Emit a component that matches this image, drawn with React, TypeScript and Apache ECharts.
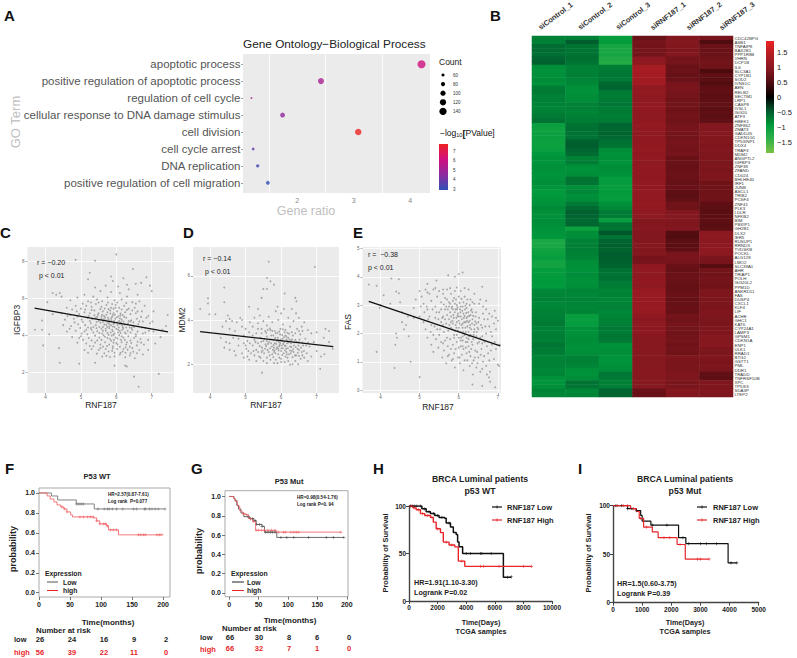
import React, { useEffect, useRef } from "react";
import * as echarts from "echarts";

const FONT = "'Liberation Sans', Arial, sans-serif";

// ---------- A: GO terms ----------
const goTerms = ["apoptotic process", "positive regulation of apoptotic process", "regulation of cell cycle", "cellular response to DNA damage stimulus", "cell division", "cell cycle arrest", "DNA replication", "positive regulation of cell migration"];
const goRatio = [4.2, 2.42, 1.19, 1.74, 3.08, 1.22, 1.3, 1.48];
const goCount = [155, 115, 40, 95, 125, 55, 65, 75];
const goLogP = [6, 5.1, 4.9, 4.6, 7.5, 3.9, 3.3, 3];
const goTicks = [2, 3, 4];
const goGrid = [1.5, 2.5, 3.5];
const goColors = ["#2f50b5", "#8e2aa0", "#d00f7f", "#ee2222"];
const countLegend = [60, 80, 100, 120, 140];
const pLegend = [7, 6, 5, 4, 3];

// ---------- B: heatmap ----------
const samples = ["siControl_1", "siControl_2", "siControl_3", "siRNF187_1", "siRNF187_2", "siRNF187_3"];
const genes = ["CDC42BPG", "ASB1", "TNFAIP8", "BAX2B1", "PPP1R8B", "VHRN", "DCP1B", "IL6", "SLC3A1", "CYP1B1", "SOD2", "IVNS1C", "AEN", "RELB2", "SECTM1", "LRP1", "CASP8", "IVSL1", "ISG20", "ATF3", "HBEK1", "ZNF862", "ZMAT3", "GADD45", "CDKN1G1", "TP53INP1", "DDX4", "TRAF3", "MDM2", "ANGPTL2", "IGFBP3", "ZNF38", "ZFAND", "CD024", "BHLHE40", "IRF1", "JUNB", "ASCL1", "TRIB2", "PCSF4", "ZNF41", "PLK3", "LDLR", "NFKB2", "BIM", "PBXIP1", "GH2B1", "DLX2", "IER5", "RUSUP1", "RRNDX", "TVDSKB", "POCKL", "ALG128", "LMO2", "SLC39A1", "AHR", "TRIAP1", "POLH", "ISG20L2", "PPM1D", "ANKRD11", "FAS", "DUSP4", "CXCL1", "KLF4", "LIF", "ACHE", "GHC1", "KAT6", "CYP24A1", "LAMP3", "GPSM1", "CDKN1A", "ENP1", "ULK1", "RRAD1", "BTG2", "GSTT1", "PML", "DDR1", "TRADD", "TNFRSF10B", "XPC", "TP53I3", "SDA3P", "LTEP2"];
const ctl1 = [-.75,-.74,-.6,-.6,-.62,-.55,-.52,-.85,-.88,-.86,-.84,-.87,-.72,-.7,-.75,-.74,-.76,-.78,-.73,-.7,-.65,-1.02,-1.05,-1.04,-1.03,-1.06,-1.05,-1.02,-.92,-.88,-.9,-.86,-.88,-.9,-.87,-.85,-.9,-.95,-.92,-.9,-.88,-.82,-.85,-.86,-.84,-.85,-.88,-.9,-.92,-1.2,-1.18,-1.1,-1.05,-1,-1.1,-1.12,-.98,-.96,-.95,-.92,-.94,-.8,-.78,-.76,-.8,-.78,-.75,-.74,-.72,-.7,-.76,-.74,-.72,-.74,-.66,-.7,-.72,-.78,-.75,-.76,-.8,-.78,-.88,-.9,-.86,-.78,-.8];
const ctl2 = [-.74,-.5,-.65,-.66,-.64,-.62,-.66,-.75,-.76,-.74,-.78,-.8,-.86,-.88,-.85,-.84,-.76,-.75,-.78,-.74,-.72,-.65,-.62,-.66,-.64,-.52,-.5,-.55,-.6,-.75,-.72,-.86,-.88,-.84,-.65,-.66,-.85,-.8,-.86,-.84,-.7,-.6,-.52,-.55,-.58,-.56,-1.05,-.85,-.84,-.76,-.75,-.74,-.76,-.78,-.85,-.86,-.88,-.84,-.86,-.87,-.85,-.78,-.8,-.76,-.78,-.79,-.77,-1,-1.02,-.98,-.86,-.88,-.85,-.84,-.86,-.87,-.85,-.76,-.75,-.78,-.86,-.88,-.84,-.65,-.66,-.8,-.78];
const ctl3 = [-1,-.98,-1.15,-1.18,-1.16,-1.25,-1.28,-.72,-.7,-.68,-.7,-.58,-.55,-.7,-.72,-.7,-.68,-.72,-.7,-.74,-.7,-.55,-.56,-.54,-.58,-.64,-.66,-.85,-.88,-.86,-.9,-.84,-.86,-.88,-.98,-.96,-1,-.95,-.97,-.98,-.86,-.8,-.7,-.72,-1,-.65,-.66,-.45,-.64,-.55,-.52,-.54,-.5,-.5,-.52,-.54,-.64,-.66,-.62,-.7,-.72,-.78,-.76,-.8,-.78,-.75,-.8,-.78,-.76,-.74,-.7,-.72,-.68,-.7,-.88,-.86,-.85,-.88,-.9,-.86,-.84,-.68,-.7,-.75,-.74,-.55,-.54];
const rnf1 = [.7,.8,.78,.8,.78,1,1.02,1.28,1.3,1.26,1.25,1.22,1.05,1.08,1.04,1.02,1.06,1.05,1.03,1.04,1.05,1.08,1.06,1.04,1.05,1.03,1.06,1.08,1.05,1.07,1.04,1.06,1.05,1.03,1.04,1.06,1.05,1.08,1.06,1.07,1.08,1.06,1.05,1.04,.92,.9,.93,.91,.9,.92,.94,.9,.92,.8,.82,1.05,1.06,1.04,1.05,1.06,1.04,1.12,1.14,1.12,1.1,1.13,1.12,1.02,1,1.03,1,1.02,.96,.94,.95,.97,.94,.96,.95,.93,.95,.96,.94,.95,.93,.72,.7];
const rnf2 = [.9,.92,.9,.88,.9,.78,.8,.7,.72,.68,.7,.82,.84,.82,.8,.76,.78,.76,.75,.78,.76,.8,.82,.8,.78,.82,.8,.78,.8,.7,.72,.68,.7,.72,.7,.68,.7,.62,.6,.64,.76,.74,.9,.92,.9,.88,.9,.52,.5,.6,.58,.62,.82,.84,.8,.7,.68,.7,.72,.68,.66,.68,.7,.66,.68,.7,.68,.78,.76,.8,.78,.76,.78,.8,.76,.78,.76,.86,.84,.85,.84,.88,.86,.84,.85,.92,.9];
const rnf3 = [.82,.5,.72,.7,.72,.76,.78,.74,.48,.62,.6,.5,.62,.64,.6,.62,.64,.6,.62,.6,.64,.92,.9,.94,.9,.92,.88,.9,.86,.88,.85,.86,.84,.88,.86,.76,.74,.76,.75,.74,.62,.6,.58,.6,.62,.58,.6,1,1.02,.98,1,1.02,1,.84,.82,.55,.78,.76,.8,.78,.76,.86,.88,.85,.86,.84,.88,.86,.85,.84,.86,.88,.94,.92,.95,.86,.85,.88,.84,.86,.85,.64,.62,.88,.86,.9,.88];
const heatColumns = [ctl1, ctl2, ctl3, rnf1, rnf2, rnf3];
const heatLegend = [1.5, 1, 0.5, 0, -0.5, -1, -1.5];
const heatColors = ["#7ac143", "#2fb14a", "#009a3c", "#005a2d", "#000000", "#4c0b0e", "#861820", "#b01d24", "#ed2224"];

// ---------- C, D, E: scatter ----------
const igfbp3Outer = [[6,8.4],[4.85,8.1],[5.4,8.05],[6.47,7.6],[5.25,7.4],[5.2,7.05],[5.85,7.2],[5.9,6.95],[6.2,7.1],[6.85,7.15],[6.95,6.7],[7,6.4],[4.2,6.3],[4.3,6.2],[4.4,6.3],[4.45,6.1],[4.05,5.8],[3.7,4.3],[3.9,4.8],[3.9,4.3],[3.93,3.45],[4.1,4.05],[4.38,3.3],[4.4,2.5],[4.95,2.45],[5.4,2.5],[6.5,1.75],[6.63,1.2],[7.2,1.9],[7.45,5.1],[7.3,4.3],[7.4,4.5],
[5.4,6.6],[5.7,6.7],[6.05,6.65],[6.3,6.75],[6.55,6.8],[6.7,6.85],[5.55,6.4],[5.85,6.35],[6.1,6.3],[6.35,6.5],[6.6,6.2],[5.1,6.2],[4.9,6.05],[4.7,5.9],[5.2,5.85],[5.35,6.1],[5.45,5.95],[5.6,5.85],[5.75,6.05],[5.95,5.9],[6.15,5.95],[6.3,6.1],[6.45,5.8],[6.65,5.85],[6.8,5.6],[7.05,5.3],[4.6,5.5],[4.85,5.6],[5,5.45],[5.15,5.6],[5.3,5.55],[5.42,5.7],[5.58,5.55],[5.72,5.65],[5.85,5.5],[5.98,5.65],[6.08,5.5],[6.22,5.6],[6.35,5.45],[6.52,5.5],[6.72,5.3],[6.9,5.05],[4.45,5.2],[4.7,5.1],[4.95,5.15],[5.1,5.25],[5.25,5.2],[5.38,5.35],[5.5,5.2],[5.62,5.3],[5.75,5.25],[5.83,5.35],[5.92,5.2],[6.02,5.3],[6.12,5.18],[6.25,5.25],[6.4,5.15],[6.55,5.2],[6.7,5],[4.2,5.15],[4.55,4.85],[4.8,4.9],[5.02,4.85],[5.18,4.95],[5.32,4.88],[5.46,5],[5.58,4.9],[5.68,4.98],[5.78,4.85],[5.88,5],[5.97,4.9],[6.05,5.02],[6.15,4.85],[6.28,4.95],[6.42,4.82],[6.58,4.9],[6.75,4.75],[6.95,4.65],[4.5,4.55],[4.72,4.5],[4.92,4.6],[5.12,4.55],[5.28,4.65],[5.42,4.55],[5.55,4.68],[5.66,4.58],[5.76,4.7],[5.85,4.55],[5.94,4.65],[6.03,4.55],[6.13,4.7],[6.23,4.58],[6.33,4.65],[6.47,4.52],[6.62,4.6],[6.82,4.4],[7.05,4.2],[4.6,4.2],[4.85,4.25],[5.1,4.2],[5.3,4.3],[5.46,4.22],[5.58,4.35],[5.7,4.25],[5.8,4.38],[5.9,4.22],[6,4.35],[6.1,4.25],[6.2,4.38],[6.32,4.25],[6.45,4.3],[6.6,4.2],[6.75,4.1],[4.75,3.9],[5,3.95],[5.22,3.85],[5.4,3.98],[5.52,3.88],[5.64,4],[5.75,3.85],[5.87,3.98],[5.98,3.88],[6.08,4],[6.2,3.88],[6.34,3.95],[6.5,3.85],[6.68,3.8],[6.9,3.75],[7.25,3.9],[4.9,3.6],[5.15,3.55],[5.4,3.6],[5.55,3.5],[5.68,3.62],[5.8,3.5],[5.92,3.6],[6.03,3.5],[6.15,3.62],[6.28,3.5],[6.42,3.58],[6.58,3.45],[6.78,3.5],[7.1,3.55],[5.1,3.2],[5.3,3.25],[5.5,3.2],[5.7,3.25],[5.88,3.15],[6.02,3.25],[6.18,3.12],[6.32,3.22],[6.48,3.1],[6.65,3.2],[6.9,3.2],[5.2,3.05],[5.6,2.85],[5.72,2.88],[5.82,2.82],[5.95,2.85],[6.1,2.95],[6.25,2.8],[6.38,2.9],[6.52,2.75],[6.3,2.3],[6.25,2.35],[5.95,2.35],[6.75,2.95]];
const igfbp3Dense = [[5.65,5.05],[5.8,4.75],[5.9,5.1],[6.18,4.45],[6.05,4.15],[5.6,4.1],[5.52,4.45],[5.95,4.45],[6.27,4.1],[5.74,4.45],[6.08,4.78],[5.67,5.45],[5.5,4.78],[6.38,4.42],[5.35,4.45],[6.13,3.75],[5.85,3.7],[6.4,4.75],[5.72,5.12],[5.83,5.18],[5.96,5.12],[6.11,5.08],[6.22,5],[5.6,5.12],[5.48,5.12],[5.38,5.08],[5.22,5.05],[5.7,4.82],[5.86,4.82],[5.93,4.78],[6.02,4.7],[6.2,4.75],[6.35,4.78],[6.48,4.7],[5.62,4.72],[5.44,4.72],[5.25,4.78],[5.05,4.72],[5.72,4.58],[5.8,4.62],[5.9,4.48],[6.07,4.42],[6.16,4.55],[6.28,4.42],[6.43,4.4],[5.62,4.45],[5.44,4.38],[5.2,4.42],[4.98,4.4],[5.75,4.12],[5.84,4.15],[5.95,4.1],[6.12,4.12],[6.24,4.15],[6.4,4.15],[6.55,4.05],[5.52,4.12],[5.35,4.15],[5.18,4.05],[5.68,3.92],[5.82,3.8],[5.93,3.75],[6.03,3.82],[6.24,3.75],[6.4,3.72],[5.58,3.75],[5.46,3.72],[5.3,3.72],[5.06,3.75],[5.74,3.42],[5.9,3.4],[6.1,3.38],[6.26,3.35],[6.38,3.38],[5.62,3.38],[5.35,3.4],[5.78,3.12],[5.95,3.05],[6.12,3.05],[6.26,3.05],[6.4,3.02],[6.58,3.02],[5.45,3],[5.66,3.02],[5.55,5.42],[5.78,5.42],[5.92,5.45],[6.15,5.4],[6.3,5.38],[6.45,5.35],[6.6,5.3],[5.3,5.38],[5.12,5.4],[4.88,5.3],[5.76,5.78],[5.88,5.7],[6.02,5.78],[6.28,5.75],[6.55,5.72],[5.5,5.78],[5.28,5.78],[5.05,5.72],[4.75,5.4],[4.62,5.05],[4.82,4.7],[4.68,4.35],[6.72,4.42],[6.65,4.75],[6.85,4.95],[6.7,3.6],[6.82,4.15],[6.6,3.65],[6.92,4.25],[7.02,4.75],[6.5,4.45],[5.98,5.5],[6.18,5.1],[5.58,5.02],[5.42,4.95],[5.85,4.92],[6.01,4.98],[5.76,4.95],[6.1,4.92],[5.65,4.88],[5.92,4.62],[6.1,4.6],[5.8,4.48],[5.7,4.35],[6.05,4.3],[5.88,4.3],[6.17,4.3],[5.62,4.25],[5.92,4.02],[5.78,4.02],[6.15,3.95],[6.3,3.62],[6,3.58],[5.9,3.3],[6.2,3.25],[6.45,3.3],[5.55,3.3],[5.25,3.42],[4.95,3.85],[5.02,4.1],[5.15,4.3],[4.9,5.02],[5.28,4.4],[6.55,3.95]];
const igfbp3Points = [...igfbp3Outer, ...igfbp3Dense];

const mdm2Outer = [[5.65,6.63],[6.95,6.4],[5.6,5.9],[5.7,5.75],[5.8,5.6],[5.5,5.4],[5.6,5.4],[6.1,5.2],[5.45,5],[6.4,5],[6.43,4.85],[5.1,4.6],[5.35,4.5],[4.4,5.47],[4.4,4.8],[3.94,4.98],[3.94,4.75],[3.72,4.5],[3.98,4.26],[4.15,4.26],[4.5,4.2],[5.46,1.62],[6.25,1.98],[6.32,2],[7.1,1.8],
[4.45,3.95],[4.55,4.05],[4.62,3.95],[4.85,4.1],[4.9,4],[4.75,3.9],[4.35,3.7],[4.55,3.6],[4.7,3.5],[4.9,3.7],[4.3,3.2],[4.45,3],[4.55,2.95],[4.65,3.2],[4.8,3.15],[4.95,3.3],[4.4,2.75],[4.55,2.65],[4.68,2.6],[4.8,2.85],[4.95,2.95],[4.72,2.4],[4.9,2.5],[5.02,2.7],[5.05,3.05],[5.1,3.45],[5.12,3.9],[5.2,3.7],[5.25,4.1],[5.3,3.4],[5.35,3.85],[5.4,4.2],[5.45,3.6],[5.5,3.95],[5.55,3.5],[5.6,3.75],[5.65,4.15],[5.7,3.55],[5.75,3.9],[5.85,4.4],[5.9,4.6],[5.92,4],[5.98,3.6],[6,4.3],[6.05,3.8],[6.08,4.5],[6.12,3.55],[6.2,4.1],[6.25,3.7],[6.3,4.5],[6.35,3.95],[6.42,4.3],[6.45,3.6],[6.5,4.1],[6.58,3.7],[6.65,3.9],[6.75,3.55],[6.85,3.4],[7,3.45],[7.35,3.5],[7.2,3.2],[7.35,3],[7.45,2.7],[7.25,3.6]];
const mdm2Dense = [[5.15,2.5],[5.2,2.85],[5.25,3.1],[5.3,2.65],[5.35,2.95],[5.38,2.35],[5.42,3.2],[5.46,2.75],[5.5,3.05],[5.52,2.5],[5.56,2.9],[5.6,3.25],[5.62,2.65],[5.66,3],[5.68,2.4],[5.72,3.3],[5.74,2.8],[5.78,3.1],[5.8,2.55],[5.82,2.95],[5.85,3.4],[5.87,2.7],[5.9,3.2],[5.92,2.45],[5.94,3],[5.97,3.35],[6,2.6],[6.02,2.85],[6.04,3.15],[6.07,2.5],[6.09,3],[6.12,3.3],[6.14,2.7],[6.17,2.95],[6.2,3.2],[6.22,2.45],[6.25,2.8],[6.28,3.05],[6.3,2.6],[6.33,3.3],[6.36,2.85],[6.4,3.1],[6.42,2.4],[6.46,2.7],[6.5,3],[6.54,3.35],[6.58,2.55],[6.62,2.85],[6.68,3.15],[6.72,2.5],[6.8,2.8],[6.85,2.35],[6.92,3],[7,2.6],[7.12,2.35],[7.22,2.45],[5.7,2.2],[5.85,2.2],[6,2.25],[5.5,2.15],[5.3,2.15],[5.1,2.2],[5.9,2.05],[6.1,2.1],[6.4,2.15],[6.55,2.25],[6.48,2],[6.75,2.15],[6.12,2.35],[5.65,2.55],[5.92,2.7],[6.05,2.72],[5.8,2.75],[5.98,2.95],[6.1,2.85],[5.72,2.95],[5.88,3.05],[6.18,3.05],[6.28,2.95],[5.6,3.05],[5.55,2.7],[6.35,2.55],[6.15,2.55],[5.82,2.62],[6.02,3.05],[5.95,2.82],[6.25,2.62],[5.75,2.45],[5.45,2.55],[6.5,2.65],[6.6,2.4],[4.95,2.3],[5.05,2.35],[5.25,2.4],[5,3.6],[5.2,3.3],[5.45,3.4],[5.75,3.5],[6.1,3.45],[6.4,3.4],[6.6,3.5],
[5.58,2.82],[5.63,2.92],[5.69,2.72],[5.71,3.12],[5.77,2.65],[5.79,2.87],[5.83,3.18],[5.84,2.5],[5.86,2.92],[5.89,2.78],[5.91,3.1],[5.93,2.62],[5.96,2.88],[5.99,3.12],[6.01,2.72],[6.03,2.42],[6.06,2.92],[6.08,3.22],[6.11,2.62],[6.13,2.82],[6.15,3.12],[6.16,2.45],[6.19,2.72],[6.21,2.98],[6.24,3.12],[6.27,2.5],[6.29,2.78],[6.31,3.12],[6.34,2.68],[6.37,2.98],[6.39,2.4],[6.41,2.78],[6.44,3.02],[6.47,2.52],[6.49,2.85],[6.52,3.12],[6.56,2.75],[6.6,2.98],[6.64,2.6],[6.7,2.85],[6.76,2.98],[5.4,2.82],[5.44,3.02],[5.48,2.62],[5.53,3.15],[5.35,2.55],[5.28,3],[5.22,2.6],[5.12,2.95],[5.08,2.6],[5,2.85],[5.58,3.42],[5.68,3.62],[5.82,3.5],[5.95,3.48],[6.05,3.58],[6.18,3.42],[6.3,3.45],[6.5,3.5],[5.35,3.6],[5.6,2.3],[5.78,2.32],[5.95,2.3],[6.18,2.3],[6.32,2.32],[6.5,2.38],[6.65,2.3],[5.42,2.3],[6,2.1],[6.2,2.15],[5.8,2.05],[5.6,2.05],[5.62,3.55],[6.22,3.38],[5.9,3.42],[5.78,3.3],[6.03,3.32],[6.15,3.25]];
const mdm2Points = [...mdm2Outer, ...mdm2Dense];

const fasOuter = [[3.7,3.73],[3.9,3.68],[4.28,3.94],[4.47,3.91],[4.4,3.48],[4.47,3.42],[4.08,3.35],[3.9,1.35],[4.36,.78],[4.77,1],[5,.46],[5.73,4.05],[5.9,4],[6,4.1],[6.1,4.15],[6.6,3.65],[5.43,3.87],[5.2,3.75],[6.35,.2],[6.77,.45],[6.8,.3],[6.93,.1],[6.6,.15],[4,3],[3.98,2.9],[4.25,3.05],[4.5,3.1],[4.55,2.75],[4.9,3.2],[4.85,2.9],[4.7,2.6],[4.55,2.4],[4.65,2.3],[4.4,2],[4.42,1.85],[4.38,1.6],[4.6,2.15],[4.72,1.9]];
const fasDense = [[5,3.5],[5.05,3.3],[5.1,3.05],[5.15,3.55],[5.2,2.85],[5.25,3.4],[5.3,3.15],[5.35,3.55],[5.4,2.95],[5.45,3.3],[5.5,3.5],[5.55,3.1],[5.6,3.4],[5.65,3.25],[5.7,3.55],[5.75,2.95],[5.8,3.4],[5.85,3.15],[5.9,3.5],[5.95,3],[6,3.3],[6.05,3.5],[6.1,2.95],[6.15,3.3],[6.2,3.05],[6.25,3.55],[6.3,3.2],[6.4,3.05],[6.55,3.2],[6.7,3.15],[6.85,2.6],[6.95,2.55],[7,2.45],[6.7,2.85],[4.85,2.55],[5,2.6],[5.1,2.4],[5.15,2.15],[5.25,2.6],[5.3,2.3],[5.35,1.95],[5.4,2.55],[5.45,2.15],[5.5,2.75],[5.55,2.4],[5.6,2.6],[5.62,2.05],[5.65,2.85],[5.68,2.35],[5.7,2.65],[5.73,2.1],[5.75,2.5],[5.78,2.75],[5.8,2.2],[5.82,2.9],[5.84,2.45],[5.86,2.65],[5.88,1.95],[5.9,2.75],[5.92,2.3],[5.94,2.55],[5.96,2.85],[5.98,2.1],[6,2.6],[6.02,2.35],[6.04,2.75],[6.06,1.85],[6.08,2.5],[6.1,2.2],[6.12,2.7],[6.14,2.4],[6.16,2.85],[6.18,2.05],[6.2,2.55],[6.22,2.25],[6.24,2.75],[6.26,1.9],[6.28,2.45],[6.3,2.65],[6.32,2.15],[6.35,2.5],[6.38,1.95],[6.4,2.3],[6.43,2.6],[6.46,2.05],[6.5,2.4],[6.55,1.85],[6.6,2.2],[6.65,2.5],[6.7,2],[6.78,2.25],[6.85,1.9],[6.95,2.15],[5.2,1.85],[5.3,1.6],[5.35,1.35],[5.42,1.8],[5.48,1.5],[5.55,1.7],[5.58,1.15],[5.62,1.4],[5.65,1.75],[5.68,.95],[5.72,1.55],[5.75,1.25],[5.78,1.8],[5.82,1.05],[5.85,1.6],[5.88,1.3],[5.9,.8],[5.95,1.7],[5.98,1.15],[6,1.5],[6.03,.95],[6.05,1.75],[6.08,1.25],[6.1,1.55],[6.12,.7],[6.15,1.05],[6.18,1.7],[6.2,1.3],[6.22,1.05],[6.25,1.55],[6.28,.85],[6.3,1.2],[6.33,1.7],[6.36,.55],[6.38,1.05],[6.42,1.4],[6.45,.8],[6.48,1.65],[6.5,1.15],[6.55,.65],[6.58,1.45],[6.62,1],[6.66,1.7],[6.7,.85],[6.75,1.3],[6.8,.65],[6.85,1.6],[6.9,1.1],[6.95,1.45],[7,.9],[7.03,.85],[7.05,1.6],[5.8,2.6],[5.85,2.35],[5.92,2.85],[6,2.2],[6.05,2.95],[6.13,2.55],[6.2,2.9],[6.25,2.4],[6.05,2.6],[5.95,2.4],[5.9,3.05],[5.75,3.1],[6.15,2],[6.1,1.9],[6.3,1.95],[6.2,1.85],[6.35,2.75],[5.65,2.5],[5.55,2.85],[5.85,2.85],[6.1,2.35],[6.28,2.2],[6.18,2.4],[5.72,2.85],[6.4,2.15],[6.5,2.15],[6.45,2.35],[6.25,2.05],[6.05,2.05],[5.98,2.7],[6.33,2.85],[5.8,2.4],[5.6,2.3],
[5.62,3.02],[5.68,2.95],[5.7,3.2],[5.78,3.05],[5.83,2.95],[5.88,3.25],[5.93,3.2],[5.97,2.92],[6.02,3.08],[6.07,3.22],[6.12,3.1],[6.17,2.98],[6.22,3.2],[6.28,3],[6.35,3.1],[5.76,2.3],[5.83,2.15],[5.87,2.55],[5.9,2.1],[5.94,2.2],[5.97,2.62],[6,2.45],[6.03,2.85],[6.07,2.3],[6.09,2.8],[6.11,2.05],[6.15,2.62],[6.17,2.2],[6.19,2.72],[6.21,2.45],[6.23,2.6],[6.27,2.62],[6.29,2.3],[6.31,2.8],[6.34,2.35],[6.37,2.62],[6.39,2.05],[6.42,2.42],[6.44,2.75],[6.48,2.2],[6.52,2.55],[6.57,2.3],[6.62,2.7],[6.68,2.25],[6.74,2.5],[6.82,2.05],[6.9,2.35],[5.58,2.55],[5.52,2.15],[5.48,2.5],[5.43,2.75],[5.38,2.25],[5.33,2.85],[5.28,2.05],[5.22,2.5],[5.18,2.95],[5.12,2.75],[5.03,2.95],[6.05,1.55],[6.12,1.45],[6.18,1.5],[6.22,1.7],[6.27,1.35],[6.32,1.45],[6.37,1.8],[6.41,1.15],[6.47,1.35],[6.52,1.7],[6.56,1.25],[6.6,1.65],[6.65,1.2],[6.72,1.55],[6.78,1.05],[6.82,1.4],[6.92,1.7],[5.92,1.45],[5.88,1.85],[5.8,1.45],[5.7,1.85],[5.6,1.65],[5.5,1.95],[6.1,1.75],[6.15,1.95],[6.25,1.8],[6.35,1.6],[6.45,1.9],[6.6,1.9],[5.95,1.95],[6,1.85],[6.02,1.15],[5.85,1.1],[5.72,1.2],[6.34,.95],[6.48,.95],[6.6,.75],[6.72,.55],[5.95,3.62],[5.78,3.6],[6.15,3.6],[5.6,3.55],[5.4,3.6],[5.2,3.45],[6.4,3.4],[6.52,3.05],[6.62,2.95],[6.78,2.7],[6.92,2.8]];
const fasPoints = [...fasOuter, ...fasDense];

// ---------- F, G, H, I: survival ----------
const fLow = [[0,1],[20,.97],[30,.93],[60,.89],[89,.84],[203,.84]];
const fHigh = [[0,1],[13,.97],[18,.94],[24,.91],[29,.88],[35,.86],[40,.84],[45,.81],[51,.78],[54,.76],[88,.75],[93,.72],[98,.69],[109,.67],[112,.63],[128,.58],[198,.58]];
const fLowCensor = [60,63,66,69,72,95,105,110,113,118,125,135,152,157,170,172,178,182,187,192,203];
const fHighCensor = [37,41,45,66,72,78,83,87,93,98,104,107,110,115,120,125,160,164,168,171,190,194,198];
const gLow = [[0,1],[8,.98],[10,.96],[13,.91],[16,.87],[20,.83],[25,.79],[35,.77],[42,.75],[46,.71],[56,.69],[60,.63],[81,.575],[195,.575]];
const gHigh = [[0,1],[8,.98],[10,.95],[14,.9],[18,.85],[22,.82],[28,.81],[33,.77],[40,.74],[45,.65],[80,.63],[190,.63]];
const gLowCensor = [32,36,40,44,47,52,56,62,66,70,74,78,88,98,110,135,165,177,195];
const gHighCensor = [25,30,37,42,46,50,55,60,66,72,78,84,92,96,105,110,114,118,190];
const hLow = [[0,100],[700,100],[900,97],[1200,94],[1500,92],[1800,90],[2100,88],[2500,87],[2600,82],[2900,78],[3100,72],[3300,70],[3400,62],[3500,57],[3750,50],[6600,25],[7150,25.5]];
const hHigh = [[0,100],[300,98],[500,96],[800,92],[1100,90],[1500,88],[1700,83],[1900,76],[2200,72],[2400,62],[2800,59],[3200,57],[3450,42],[3900,36.5],[8570,36.5]];
const hLowCensor = [100,250,400,550,800,1100,1400,1700,2000,2300,2800,4000,4300,5000,5100,5750,6900,7150];
const hHighCensor = [150,350,650,950,1300,1600,2000,2600,3000,3700,5000,5200,6300,8000,8570];
const iLow = [[0,100],[500,97],[800,95],[950,90],[1000,84],[1300,80],[2250,67],[2500,61],[3950,41],[4250,41]];
const iHigh = [[0,100],[550,100],[600,97],[800,94],[900,87],[1050,78],[1350,73],[1550,67],[2200,60],[2480,45],[3300,45]];
const iLowCensor = [100,300,500,650,800,1350,1850,2400,2600,3000,3200,3550,4050,4250];
const iHighCensor = [150,350,500,700,950,1150,1750,1950,2300,2900,3000,3300];
const riskLowF = ["26", "24", "16", "9", "2"];
const riskHighF = ["56", "39", "22", "11", "0"];
const riskLowG = ["66", "30", "8", "6", "0"];
const riskHighG = ["66", "32", "7", "1", "0"];

const PLUS = "path://M4 0h2v4h4v2h-4v4h-2v-4h-4v-2h4z";

function T(x: number, y: number, text: string, o: any = {}) {
  return {
    type: "text", x, y, silent: true, rotation: o.rotation || 0, z: 10,
    style: {
      text, fill: o.color || "#222", font: `${o.weight || "normal"} ${o.size || 8}px ${FONT}`,
      align: o.align || "left", verticalAlign: "middle", rich: o.rich,
    },
  };
}
function L(x1: number, y1: number, x2: number, y2: number, stroke: string, lineWidth = 1) {
  return { type: "line", silent: true, shape: { x1, y1, x2, y2 }, style: { stroke, lineWidth } };
}

function axis(gridIndex: number, min: number, max: number, ticks: number[], o: any = {}) {
  return {
    type: "value", gridIndex, min, max, inverse: !!o.inverse,
    axisLine: { show: !!o.line, onZero: false, lineStyle: { color: o.lineColor || "#444", width: o.lineWidth || 1 } },
    axisTick: { show: o.tick !== false, customValues: o.lines || ticks, length: o.tickLen || 2, lineStyle: { color: o.lineColor || "#888", width: o.tickWidth || 0.7 } },
    axisLabel: { customValues: ticks, fontSize: o.size || 4.5, color: o.color || "#666", fontWeight: o.weight || "normal", margin: o.margin ?? 3, formatter: o.fmt || ((v: number) => String(v)), hideOverlap: false, showMinLabel: true, showMaxLabel: true },
    splitLine: { show: !!o.split, lineStyle: { color: "#fff", width: 0.8 } },
  };
}

function stepValue(steps: number[][], t: number) {
  let s = steps[0][1];
  for (const p of steps) if (p[0] <= t) s = p[1];
  return s;
}
function km(grid: number, steps: number[][], censor: number[], color: string, width: number, mark: number) {
  return [
    { type: "line", xAxisIndex: grid, yAxisIndex: grid, step: "end", showSymbol: false, data: steps, lineStyle: { color, width }, z: 3, silent: true },
    { type: "scatter", xAxisIndex: grid, yAxisIndex: grid, symbol: PLUS, symbolSize: mark, data: censor.map((t) => [t, stepValue(steps, t)]), itemStyle: { color }, z: 4, silent: true },
  ];
}
function dots(grid: number, pts: number[][], ends: number[][]) {
  return [
    { type: "scatter", xAxisIndex: grid, yAxisIndex: grid, symbolSize: 1.8, data: pts, itemStyle: { color: "#929292" }, silent: true, z: 2 },
    { type: "line", xAxisIndex: grid, yAxisIndex: grid, showSymbol: false, data: ends, lineStyle: { color: "#111", width: 1.3 }, silent: true, z: 3 },
  ];
}

function buildOption() {
  const heatData: number[][] = [];
  heatColumns.forEach((col, c) => col.forEach((v, r) => heatData.push([c, r, v])));

  const grids = [
    { left: 243, top: 54, width: 187, height: 139, show: true, backgroundColor: "#ebebeb", borderWidth: 0 },
    { left: 532, top: 36, width: 201, height: 361 },
    { left: 27.5, top: 247, width: 146.5, height: 146, show: true, backgroundColor: "#ebebeb", borderWidth: 0 },
    { left: 193, top: 247, width: 146, height: 146, show: true, backgroundColor: "#ebebeb", borderWidth: 0 },
    { left: 362.5, top: 247, width: 138.5, height: 146, show: true, backgroundColor: "#ebebeb", borderWidth: 0 },
    { left: 39, top: 488, width: 131, height: 109, show: true, backgroundColor: "transparent", borderColor: "#aaa", borderWidth: 1 },
    { left: 225, top: 490.7, width: 123, height: 106, show: true, backgroundColor: "transparent", borderColor: "#aaa", borderWidth: 1 },
    { left: 409, top: 506, width: 143, height: 95 },
    { left: 613, top: 505.7, width: 145.7, height: 97 },
  ].map((g) => ({ ...g, containLabel: false, outerBoundsMode: "none" }));

  const ggX = { split: true, size: 4.5, margin: 1.5 };
  const km1 = { line: false, size: 7, color: "#222", weight: "bold", margin: 4, tickLen: 3, lineColor: "#555", tickWidth: 0.8 };
  const km2 = { line: true, lineColor: "#444", lineWidth: 1.4, size: 6.5, color: "#222", weight: "bold", margin: 3, tickLen: 3, tickWidth: 1 };
  const fixed1 = (v: number) => v.toFixed(1);

  const xAxes = [
    axis(0, 1.04, 4.35, goTicks, { lines: goGrid, tick: false, split: true, size: 7, color: "#888", margin: 3.5 }),
    { type: "category", gridIndex: 1, data: samples, axisLine: { show: false }, axisTick: { show: false }, axisLabel: { show: false }, splitLine: { show: false } },
    axis(2, 3.49, 7.63, [4, 5, 6, 7], ggX),
    axis(3, 3.52, 7.63, [4, 5, 6, 7], ggX),
    axis(4, 3.54, 7.08, [4, 5, 6, 7], ggX),
    axis(5, 0, 211, [0, 50, 100, 150, 200], km1),
    axis(6, -7, 202, [0, 50, 100, 150, 200], km1),
    axis(7, 0, 10000, [0, 2000, 4000, 6000, 8000, 10000], km2),
    axis(8, 0, 5000, [0, 1000, 2000, 3000, 4000, 5000], km2),
  ];
  const yAxes = [
    axis(0, -0.6, 7.6, goTerms.map((_, i) => i), { inverse: true, size: 11.5, color: "#555", margin: 2.5, tickLen: 2, lineColor: "#777", fmt: (v: number) => goTerms[v] }),
    { type: "category", gridIndex: 1, inverse: true, position: "right", data: genes, axisLine: { show: false }, axisTick: { show: false }, splitLine: { show: false }, axisLabel: { interval: 0, fontSize: 4.4, color: "#333", margin: 1.5, hideOverlap: false } },
    axis(2, 0.86, 8.8, [2, 4, 6, 8], { split: true }),
    axis(3, 0.7, 7.3, [2, 4, 6], { split: true }),
    axis(4, -0.1, 5.05, [0, 1, 2, 3, 4, 5], { split: true }),
    axis(5, -0.043, 1.05, [0, .2, .4, .6, .8, 1], { ...km1, fmt: fixed1 }),
    axis(6, -0.04, 1.06, [0, .2, .4, .6, .8, 1], { ...km1, fmt: fixed1 }),
    axis(7, 0, 100, [0, 50, 100], km2),
    axis(8, 0, 100, [0, 50, 100], km2),
  ];

  const series: any[] = [
    {
      type: "scatter", xAxisIndex: 0, yAxisIndex: 0, silent: true, z: 3,
      data: goTerms.map((_, i) => [goRatio[i], i, goLogP[i], goCount[i]]),
      symbolSize: (v: number[]) => v[3] * 0.052,
    },
    { type: "heatmap", xAxisIndex: 1, yAxisIndex: 1, data: heatData, silent: true, itemStyle: { borderWidth: 0 } },
    ...dots(2, igfbp3Points, [[3.69, 5.47], [7.46, 4.18]]),
    ...dots(3, mdm2Points, [[3.72, 3.47], [7.47, 2.8]]),
    ...dots(4, fasPoints, [[3.7, 3.13], [7.06, 1.56]]),
    ...km(5, fLow, fLowCensor, "#666", 0.8, 3),
    ...km(5, fHigh, fHighCensor, "#f0595c", 0.8, 3),
    ...km(6, gLow, gLowCensor, "#444", 0.8, 3),
    ...km(6, gHigh, gHighCensor, "#f0595c", 0.8, 3),
    ...km(7, hLow, hLowCensor, "#111", 1.5, 3.2),
    ...km(7, hHigh, hHighCensor, "#e8262a", 1.4, 3.2),
    ...km(8, iLow, iLowCensor, "#111", 1.2, 3.2),
    ...km(8, iHigh, iHighCensor, "#e8262a", 1.2, 3.2),
  ];

  const g: any[] = [];
  const letters: [string, number, number][] = [["A", 4, 15], ["B", 490, 15], ["C", 0, 232], ["D", 183, 232], ["E", 353, 232], ["F", 5, 468], ["G", 191, 468], ["H", 373, 468], ["I", 578, 468]];
  letters.forEach(([s, x, y]) => g.push(T(x, y, s, { size: 15, weight: "bold", color: "#111" })));

  // A
  g.push(T(243, 44, "Gene Ontology\u2212Biological Process", { size: 11.8, color: "#222" }));
  g.push(T(15, 122, "GO Term", { size: 13, color: "#c0c0c0", align: "center", rotation: Math.PI / 2 }));
  g.push(T(306, 211, "Gene ratio", { size: 12.5, color: "#c0c0c0", align: "center" }));
  g.push(T(439, 62, "Count", { size: 8.5 }));
  countLegend.forEach((c, i) => {
    const y = 75 + i * 9.1;
    g.push({ type: "circle", silent: true, shape: { cx: 443, cy: y, r: c * 0.026 }, style: { fill: "#000" } });
    g.push(T(453, y, String(c), { size: 4.5, color: "#333" }));
  });
  g.push({
    type: "text", x: 440, y: 133, silent: true,
    style: {
      text: "{a|\u2212log}{b|10}{c|[}{a|PValue]}", verticalAlign: "middle",
      rich: {
        a: { font: `8.5px ${FONT}`, fill: "#111" },
        b: { font: `5.5px ${FONT}`, fill: "#111", verticalAlign: "bottom", padding: [4, 0, 0, 0] },
        c: { font: `bold 9.5px ${FONT}`, fill: "#111" },
      },
    },
  });
  g.push({
    type: "rect", silent: true, shape: { x: 439, y: 144, width: 9, height: 46 },
    style: { fill: new echarts.graphic.LinearGradient(0, 1, 0, 0, goColors.map((color, i) => ({ offset: i / (goColors.length - 1), color }))) },
  });
  pLegend.forEach((p, i) => g.push(T(453, 151 + i * 9.5, String(p), { size: 4.5, color: "#333" })));

  // B column labels
  const labelCentres = [[555.5, 16], [595, 16], [633, 16], [668, 16], [704, 16], [737, 16]];
  samples.forEach((s, i) => g.push(T(labelCentres[i][0], labelCentres[i][1], s, { size: 7.4, weight: "bold", color: "#333", align: "center", rotation: 0.64 })));
  g.push({
    type: "rect", silent: true, shape: { x: 766, y: 41, width: 8, height: 112 },
    style: { fill: new echarts.graphic.LinearGradient(0, 1, 0, 0, heatColors.map((color, i) => ({ offset: i / (heatColors.length - 1), color }))) },
  });
  heatLegend.forEach((v, i) => g.push(T(777, 52 + i * 15, v < 0 ? `\u2212${-v}` : String(v), { size: 7.5, color: "#222" })));

  // C, D, E
  const rnfY = [405, 405, 407];
  g.push(T(37, 262, "r = \u22120.20", { size: 7 }), T(39, 275, "p < 0.01", { size: 7 }));
  g.push(T(17, 320, "IGFBP3", { size: 8.5, align: "center", rotation: Math.PI / 2 }), T(101, rnfY[0], "RNF187", { size: 8.5, align: "center" }));
  g.push(T(203, 258, "r = \u22120.14", { size: 7 }), T(205, 271, "p < 0.01", { size: 7 }));
  g.push(T(182, 320, "MDM2", { size: 8.5, align: "center", rotation: Math.PI / 2 }), T(266, rnfY[1], "RNF187", { size: 8.5, align: "center" }));
  g.push(T(368, 254, "r =  \u22120.38", { size: 7 }), T(368, 267, "p < 0.01", { size: 7 }));
  g.push(T(348, 322, "FAS", { size: 8.5, align: "center", rotation: Math.PI / 2 }), T(438, rnfY[2], "RNF187", { size: 8.5, align: "center" }));

  // F
  const B = "bold";
  const tableXF = [40, 72, 104, 134, 166];
  g.push(T(97, 476, "P53 WT", { size: 7.5, weight: B, align: "center" }));
  g.push(T(108, 494, "HR=2.57(0.87-7.61)", { size: 4.6, weight: B }), T(108, 501, "Log rank  P=0.077", { size: 4.6, weight: B }));
  g.push(T(45, 573, "Expression", { size: 6.8, weight: B }), T(63, 582, "Low", { size: 6.8, weight: B }), T(63, 590.5, "high", { size: 6.8, weight: B }));
  g.push(L(47, 582, 58, 582, "#555"), L(47, 590.5, 58, 590.5, "#e8262a"));
  g.push(T(13, 549, "probability", { size: 9, weight: B, align: "center", rotation: Math.PI / 2 }));
  g.push(T(108, 622, "Time(months)", { size: 8, weight: B, align: "center" }), T(36, 630, "Number at risk", { size: 7.8, weight: B }));
  g.push(T(14, 639, "low", { size: 7.5, weight: B }), T(14, 652, "high", { size: 7.5, weight: B, color: "#e8262a" }));
  riskLowF.forEach((s, i) => g.push(T(tableXF[i], 639, s, { size: 7.5, weight: B, align: "center" })));
  riskHighF.forEach((s, i) => g.push(T(tableXF[i], 652, s, { size: 7.5, weight: B, align: "center", color: "#e8262a" })));

  // G
  const tableXG = [230, 259, 289, 317, 349];
  g.push(T(289, 481, "P53 Mut", { size: 7.5, weight: B, align: "center" }));
  g.push(T(297, 497, "HR=0.98(0.54-1.76)", { size: 4.6, weight: B }), T(297, 504, "Log rank P=0. 94", { size: 4.6, weight: B }));
  g.push(T(231, 573, "Expression", { size: 6.8, weight: B }), T(247, 582, "Low", { size: 6.8, weight: B }), T(247, 590.5, "high", { size: 6.8, weight: B }));
  g.push(L(232, 582, 244, 582, "#222"), L(232, 590.5, 244, 590.5, "#e8262a"));
  g.push(T(199, 551, "probability", { size: 9, weight: B, align: "center", rotation: Math.PI / 2 }));
  g.push(T(290, 620, "Time(months)", { size: 8, weight: B, align: "center" }), T(222, 628, "Number at risk", { size: 7.8, weight: B }));
  g.push(T(200, 637, "low", { size: 7.5, weight: B }), T(200, 649, "high", { size: 7.5, weight: B, color: "#e8262a" }));
  riskLowG.forEach((s, i) => g.push(T(tableXG[i], 637, s, { size: 7.5, weight: B, align: "center" })));
  riskHighG.forEach((s, i) => g.push(T(tableXG[i], 648, s, { size: 7.5, weight: B, align: "center", color: "#e8262a" })));

  // H
  g.push(T(480, 479, "BRCA Luminal patients", { size: 8.7, weight: B, align: "center" }), T(480, 491, "p53 WT", { size: 8.7, weight: B, align: "center" }));
  g.push(T(385, 553, "Probability of Survival", { size: 7.5, weight: B, align: "center", rotation: Math.PI / 2 }));
  g.push(L(492, 507, 502, 507, "#111", 1.2), L(492, 520, 502, 520, "#e8262a", 1.2), L(497, 505.5, 497, 508.5, "#111", 0.8), L(497, 518.5, 497, 521.5, "#e8262a", 0.8));
  g.push(T(507, 507, "RNF187 Low", { size: 7.5, weight: B }), T(507, 520, "RNF187 High", { size: 7.5, weight: B }));
  g.push(T(414, 582, "HR=1.91(1.10-3.30)", { size: 7.2, weight: B }), T(414, 592, "Logrank P=0.02", { size: 7.2, weight: B }));
  g.push(T(481, 622, "Time(Days)", { size: 7.2, weight: B, align: "center" }), T(481, 631, "TCGA samples", { size: 7.2, weight: B, align: "center" }));

  // I
  g.push(T(685, 479, "BRCA Luminal patients", { size: 8.7, weight: B, align: "center" }), T(685, 491, "p53 Mut", { size: 8.7, weight: B, align: "center" }));
  g.push(T(588, 553, "Probability of Survival", { size: 7.5, weight: B, align: "center", rotation: Math.PI / 2 }));
  g.push(L(697, 507, 707, 507, "#111", 1.2), L(697, 520, 707, 520, "#e8262a", 1.2), L(702, 505.5, 702, 508.5, "#111", 0.8), L(702, 518.5, 702, 521.5, "#e8262a", 0.8));
  g.push(T(713, 507, "RNF187 Low", { size: 7.5, weight: B }), T(713, 520, "RNF187 High", { size: 7.5, weight: B }));
  g.push(T(617, 583, "HR=1.5(0.60-3.75)", { size: 7.2, weight: B }), T(617, 593, "Logrank P=0.39", { size: 7.2, weight: B }));
  g.push(T(685, 622, "Time(Days)", { size: 7.2, weight: B, align: "center" }), T(685, 631, "TCGA samples", { size: 7.2, weight: B, align: "center" }));

  return {
    animation: false,
    backgroundColor: "#fff",
    textStyle: { fontFamily: FONT },
    grid: grids,
    xAxis: xAxes,
    yAxis: yAxes,
    visualMap: [
      { type: "continuous", show: false, seriesIndex: 0, dimension: 2, min: 3, max: 7.5, inRange: { color: goColors } },
      { type: "continuous", show: false, seriesIndex: 1, dimension: 2, min: -1.87, max: 1.87, inRange: { color: heatColors } },
    ],
    series,
    graphic: { elements: g },
  };
}

export default function App() {
  const ref = useRef<HTMLDivElement>(null);
  useEffect(() => {
    document.body.style.margin = "0";
    const chart = echarts.init(ref.current!, undefined, { renderer: "svg" });
    chart.setOption(buildOption() as any);
    return () => chart.dispose();
  }, []);
  return <div ref={ref} style={{ position: "absolute", left: 0, top: 0, width: 797, height: 658 }} />;
}
